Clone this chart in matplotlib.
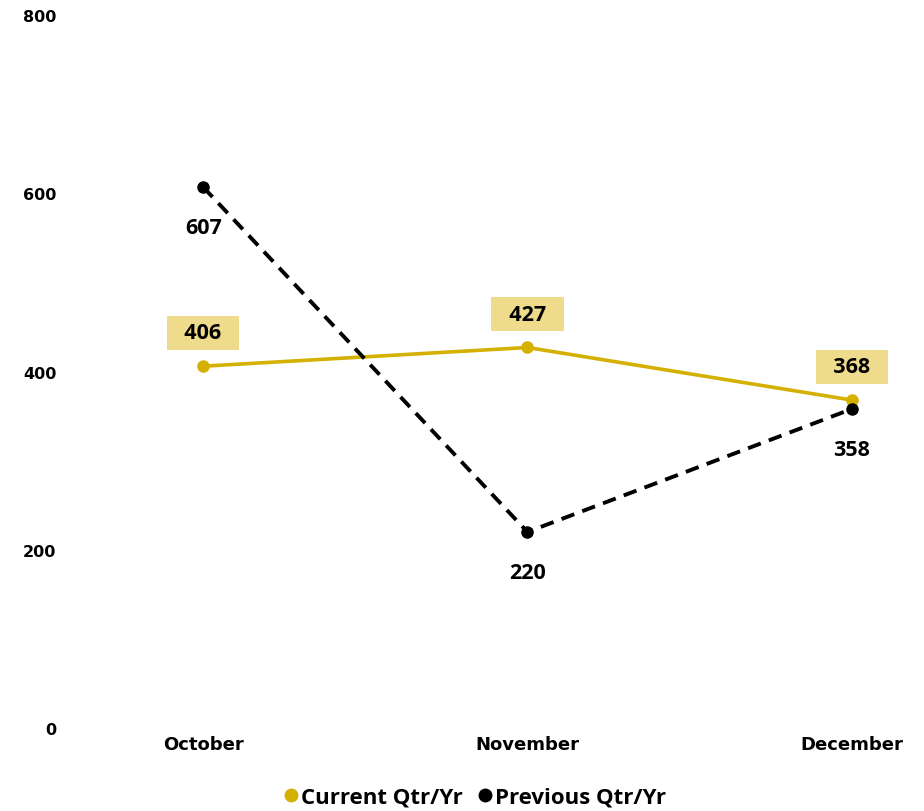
import matplotlib
matplotlib.use("Agg")
import numpy as np
from matplotlib import pyplot as plt

months = ["October", "November", "December"]
current = [406, 427, 368]
previous = [607, 220, 358]
y_ticks = [0, 200, 400, 600, 800]

gold = "#D4B000"
box = "#EEDC8C"

fig = plt.figure(figsize=(9.24, 8.12), dpi=100)
ax = fig.add_axes([0.076, 0.1022, 0.909, 0.878])

x = np.arange(len(months))
ax.plot(x, current, color=gold, lw=2.6, marker="o", ms=8, label="Current Qtr/Yr", zorder=3)
ax.plot(x, previous, color="black", lw=2.8, ls=(0, (3.5, 2.2)), marker="o", ms=8,
        label="Previous Qtr/Yr", zorder=4)

# etykiety danych
for xi, v in zip(x, current):
    ax.annotate("  " + str(v) + "  ", (xi, v), xytext=(0, 24), textcoords="offset points",
                ha="center", va="center", fontsize=15.5, fontweight="bold",
                family="Open Sans",
                bbox=dict(boxstyle="square,pad=0.3", fc=box, ec="none"))
for xi, v in zip(x, previous):
    ax.annotate(str(v), (xi, v), xytext=(0, -29), textcoords="offset points",
                ha="center", va="center", fontsize=15.5, fontweight="bold",
                family="Open Sans")

ax.set_xlim(-0.41, 2.18)
ax.set_ylim(0, 800)
ax.set_xticks(x)
ax.set_xticklabels(months, fontsize=13, fontweight="bold")
ax.set_yticks(y_ticks)
ax.set_yticklabels([str(t) for t in y_ticks], fontsize=11.5, fontweight="bold")
ax.tick_params(length=0, pad=5)
ax.tick_params(axis="y", pad=10)
for s in ax.spines.values():
    s.set_visible(False)

handles = [plt.Line2D([], [], ls="none", marker="o", ms=9, color=gold),
           plt.Line2D([], [], ls="none", marker="o", ms=9, color="black")]
fig.legend(handles, ["Current Qtr/Yr", "Previous Qtr/Yr"], loc="center",
           bbox_to_anchor=(0.514, 0.017), ncol=2, frameon=False, handlelength=0.6,
           handletextpad=0.15, columnspacing=0.7,
           prop=dict(family="Open Sans", weight="bold", size=16))

plt.savefig("out.png", dpi=100, facecolor="white")
plt.close()
